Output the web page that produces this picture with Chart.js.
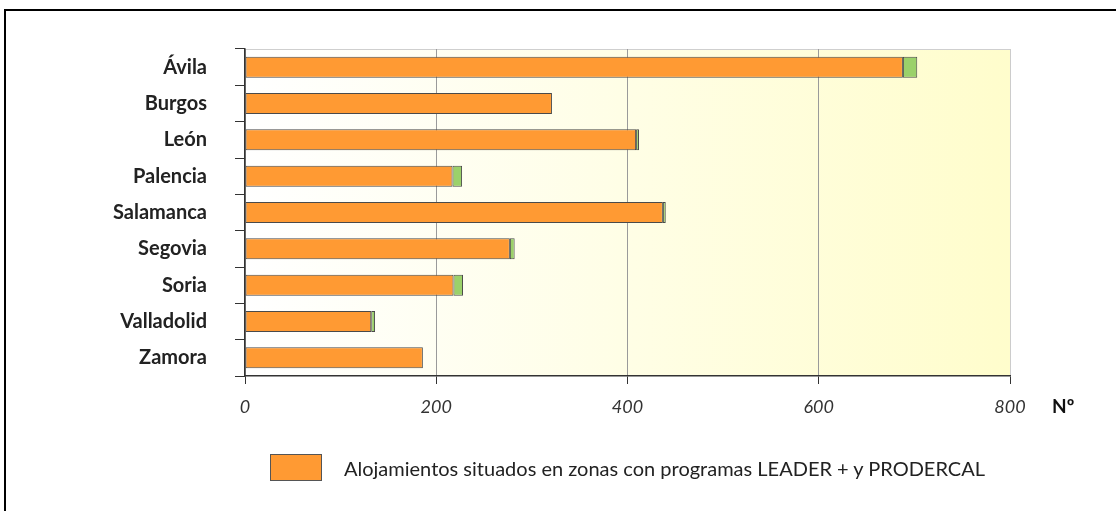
<!DOCTYPE html>
<html lang="es">
<head>
<meta charset="utf-8">
<script src="https://cdn.jsdelivr.net/npm/chart.js@4/dist/chart.umd.min.js"></script>
<style>
  html, body { margin: 0; padding: 0; background: #fff; }
  #wrap { position: relative; width: 1116px; height: 511px; overflow: hidden; font-family: Lato, "Open Sans", sans-serif; }
  #grafico { position: absolute; left: 0; top: 0; }
  #marco { position: absolute; left: 4px; top: 9px; width: 1200px; height: 600px; border-top: 2px solid #000; border-left: 2px solid #000; pointer-events: none; }
  #unidad { position: absolute; left: 1052px; top: 394px; font-weight: bold; font-size: 19px; color: #111; }
  #leyenda { position: absolute; left: 270px; top: 454px; display: flex; align-items: center; }
  #leyenda .caja { width: 50px; height: 25px; border: 1px solid #555; margin-right: 22px; }
  #leyenda .texto { font-size: 20px; color: #222; }
</style>
</head>
<body>
<div id="wrap">
  <canvas id="grafico" width="1116" height="511"></canvas>
  <div id="marco"></div>
  <div id="unidad">Nº</div>
  <div id="leyenda"></div>
</div>
<script>
const provincias = ['Ávila', 'Burgos', 'León', 'Palencia', 'Salamanca', 'Segovia', 'Soria', 'Valladolid', 'Zamora'];
const alojLeader = [688, 321, 409, 217, 437, 277, 218, 132, 186];
const alojResto = [15, 0, 3, 10, 3, 5, 10, 4, 0];
const ejeX = { min: 0, max: 800, paso: 200 };

const naranja = '#ff9a33';
const verde = '#9bd16a';

// fondo degradado del área de trazado y filete superior
const fondoArea = {
    id: 'fondoArea',
    beforeDraw(chart) {
        const { ctx, chartArea: a } = chart;
        const g = ctx.createLinearGradient(a.left, 0, a.right, 0);
        g.addColorStop(0, '#ffffff');
        g.addColorStop(1, '#fffdcc');
        ctx.save();
        ctx.fillStyle = g;
        ctx.fillRect(a.left, a.top, a.right - a.left, a.bottom - a.top);
        ctx.strokeStyle = '#cfcfcf';
        ctx.lineWidth = 1;
        ctx.beginPath();
        ctx.moveTo(a.left, a.top + 0.5);
        ctx.lineTo(a.right, a.top + 0.5);
        ctx.stroke();
        ctx.restore();
    }
};

const ctx = document.getElementById('grafico');
const grafico = new Chart(ctx, {
    type: 'bar',
    data: {
        labels: provincias,
        datasets: [{
            label: 'Alojamientos situados en zonas con programas LEADER + y PRODERCAL',
            data: alojLeader,
            backgroundColor: naranja,
            borderColor: '#4a4a4a',
            borderWidth: 1,
            borderSkipped: false,
            categoryPercentage: 1,
            barPercentage: 0.58
        }, {
            label: 'Resto de alojamientos',
            data: alojResto,
            backgroundColor: verde,
            borderColor: '#4a4a4a',
            borderWidth: 1,
            borderSkipped: false,
            categoryPercentage: 1,
            barPercentage: 0.58
        }]
    },
    options: {
        indexAxis: 'y',
        responsive: false,
        animation: false,
        layout: { padding: { top: 49, right: 106, bottom: 85, left: 0 } },
        plugins: {
            legend: { display: false },
            tooltip: { enabled: false }
        },
        scales: {
            x: {
                stacked: true,
                min: ejeX.min,
                max: ejeX.max,
                afterFit: function (scale) { scale.height = 50; },
                ticks: {
                    stepSize: ejeX.paso,
                    padding: 12,
                    color: '#333',
                    font: { family: 'Lato', size: 18, style: 'italic' }
                },
                grid: {
                    color: function (c) { return c.tick && c.tick.value === ejeX.max ? '#cccccc' : '#9a9a9a'; },
                    tickColor: '#333',
                    tickLength: 8,
                    lineWidth: 1
                },
                border: { color: '#333', width: 1.5 }
            },
            y: {
                stacked: true,
                afterFit: function (scale) { scale.width = 245; },
                ticks: {
                    padding: 28,
                    color: '#222',
                    font: { family: 'Lato', size: 20, weight: 'bold' }
                },
                grid: {
                    drawOnChartArea: false,
                    offset: true,
                    tickLength: 10,
                    tickColor: '#333'
                },
                border: { color: '#333', width: 1.5 }
            }
        }
    },
    plugins: [fondoArea]
});

// leyenda con solo la primera serie
const serie = grafico.data.datasets[0];
document.getElementById('leyenda').innerHTML =
    '<div class="caja" style="background:' + serie.backgroundColor + '"></div>' +
    '<div class="texto">' + serie.label + '</div>';
</script>
</body>
</html>
